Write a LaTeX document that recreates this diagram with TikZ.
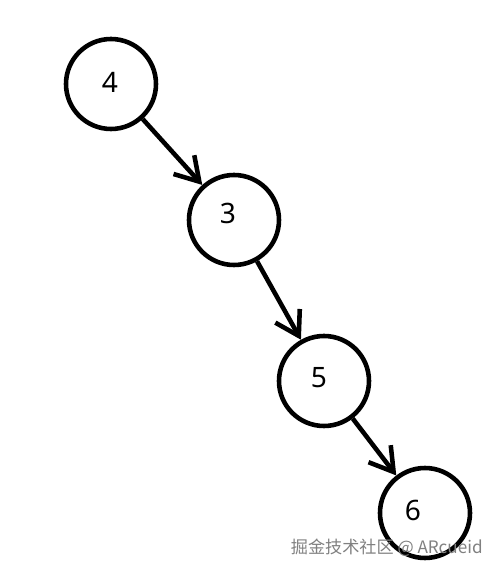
\documentclass[tikz,border=0pt]{standalone}
\usepackage{fontspec}
\setmainfont{Noto Sans}
\newfontfamily\cjkfont{Noto Sans CJK SC}
\usetikzlibrary{
  positioning,
  arrows.meta
}

\begin{document}
\begin{tikzpicture}[
    >={Straight Barb[length=4.6mm,width=5.6mm]},
    font=\fontsize{16}{19}\selectfont,
    treenode/.style={
      circle,
      draw=black,
      line width=2.6pt,
      minimum size=1.8cm
    },
    link/.style={
      ->,
      line width=2.6pt
    }
  ]

  \useasboundingbox (0,0) rectangle (10,11.42);

  \begin{scope}

    % Tree nodes
    \node[treenode, label={[shift={(-0.02,0.04)}]center:4}] (n4) at (2.22,9.74) {};
    \node[treenode, label={[shift={(-0.12,0.14)}]center:3}] (n3) at (4.68,7.02) {};
    \node[treenode, label={[shift={(-0.10,0.06)}]center:5}] (n5) at (6.48,3.80) {};
    \node[treenode, label={[shift={(-0.24,0.06)}]center:6}] (n6) at (8.50,1.16) {};

    % Links
    \draw[link] (n4) -- (n3);
    \draw[link] (n3) -- (n5);
    \draw[link] (n5) -- (n6);

    % Watermark
    \node[anchor=east, inner sep=0pt, text=gray, font=\cjkfont\fontsize{9.75}{11}\selectfont] (mark) at (9.66,0.46) {掘金技术社区 @ ARcueid};

  \end{scope}

\end{tikzpicture}
\end{document}
